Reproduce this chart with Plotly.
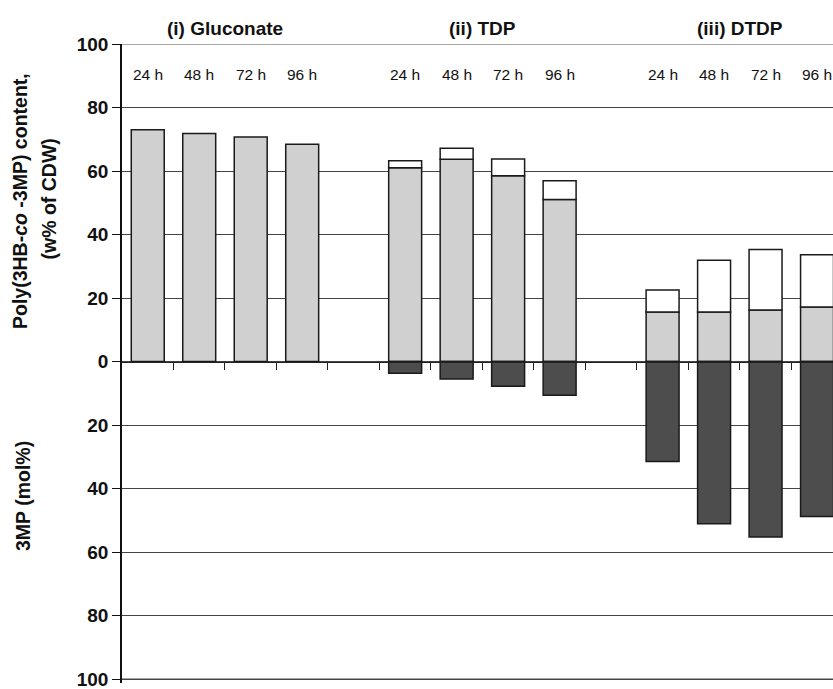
import plotly.graph_objects as go

# ---- data ----
groups = ["(i) Gluconate", "(ii) TDP", "(iii) DTDP"]
times = ["24 h", "48 h", "72 h", "96 h"]
# 3HB part of content (w% of CDW), light grey
hb_part = [[73.0, 71.8, 70.7, 68.4],
           [61.0, 63.7, 58.5, 51.0],
           [15.6, 15.6, 16.2, 17.2]]
# total polymer content (w% of CDW), top of white part
total_content = [[73.0, 71.8, 70.7, 68.4],
                 [63.2, 67.2, 63.8, 56.9],
                 [22.5, 31.9, 35.3, 33.6]]
# 3MP fraction (mol%), dark bars drawn downward
mp_molpct = [[None, None, None, None],
             [3.7, 5.5, 7.8, 10.6],
             [31.5, 51.1, 55.3, 48.8]]
y_ticks = [-100, -80, -60, -40, -20, 0, 20, 40, 60, 80, 100]

# ---- build positions: 4 bars per group, one empty slot between groups ----
xs, grey, white, dark, labels = [], [], [], [], []
group_centers = []
pos = 0
for g in range(len(groups)):
    start = pos
    for t in range(len(times)):
        xs.append(pos)
        grey.append(hb_part[g][t])
        diff = total_content[g][t] - hb_part[g][t]
        white.append(diff if diff > 0.05 else None)
        v = mp_molpct[g][t]
        dark.append(-v if v is not None else None)
        labels.append(times[t])
        pos += 1
    group_centers.append((start + pos - 1) / 2)
    pos += 1

FONT = "Liberation Sans, Arial, Helvetica, sans-serif"
outline = dict(color="#1a1a1a", width=1.5)
bw = 0.64

TOP, BOT = 44, 6
PLOT_H = 689 - TOP - BOT
PX_PER_UNIT = 3.175
y_lo = 100 - PLOT_H / PX_PER_UNIT


def py(pix):
    """paper y for a pixel row"""
    return (689 - BOT - pix) / PLOT_H


W = 833 - 122

fig = go.Figure()
fig.add_bar(x=xs, y=grey, width=bw, marker=dict(color="#d0d0d0", line=outline))
fig.add_bar(x=xs, y=white, width=bw, marker=dict(color="#ffffff", line=outline))
fig.add_bar(x=xs, y=dark, width=bw, marker=dict(color="#4d4d4d", line=outline))

# time labels inside top of plot
for x, lab in zip(xs, labels):
    fig.add_annotation(x=x, y=90.5, text=lab, showarrow=False,
                       font=dict(family=FONT, size=15.5, color="#111"),
                       xanchor="center", yanchor="middle")
# group titles above the plot
for c, g in zip(group_centers, groups):
    fig.add_annotation(x=c, y=py(28), yref="paper", text="<b>%s</b>" % g,
                       showarrow=False,
                       font=dict(family=FONT, size=19, color="#111", weight="bold"),
                       xanchor="center", yanchor="middle")

tfont = dict(family=FONT, size=19.5, color="#111", weight="bold")
fig.add_annotation(xref="paper", yref="paper", x=(20 - 122) / W, y=py(201),
                   text="<b>Poly(3HB-<i>co</i> -3MP) content,</b>", textangle=-90,
                   showarrow=False, font=tfont, xanchor="center", yanchor="middle")
fig.add_annotation(xref="paper", yref="paper", x=(49 - 122) / W, y=py(199.5),
                   text="<b>(w% of CDW)</b>", textangle=-90,
                   showarrow=False, font=tfont, xanchor="center", yanchor="middle")
fig.add_annotation(xref="paper", yref="paper", x=(23 - 122) / W, y=py(496),
                   text="<b>3MP (mol%)</b>", textangle=-90,
                   showarrow=False, font=tfont, xanchor="center", yanchor="middle")

# lighter frame lines at the top and bottom of the value range
for yv in (y_ticks[0], y_ticks[-1]):
    fig.add_shape(type="line", xref="paper", x0=0, x1=1, yref="y", y0=yv, y1=yv,
                  line=dict(color="#8a8a8a", width=1.5), layer="below")

boundaries = [p + 0.5 for p in range(pos - 2)]

fig.update_layout(
    width=833, height=689,
    margin=dict(l=122, r=0, t=TOP, b=BOT, autoexpand=False),
    barmode="relative",
    showlegend=False,
    plot_bgcolor="white", paper_bgcolor="white",
    xaxis=dict(range=[-0.5, 13.31], anchor="free", position=(0 - y_lo) / (100 - y_lo),
               showgrid=False, zeroline=False, showline=True,
               linecolor="#222", linewidth=1,
               ticks="outside", ticklen=7, tickcolor="#222", tickwidth=1,
               tickvals=boundaries, showticklabels=False, fixedrange=True),
    yaxis=dict(range=[y_lo, 100], tickvals=y_ticks,
               ticktext=[str(abs(v)) for v in y_ticks],
               showgrid=True, gridcolor="#444", gridwidth=1,
               zeroline=False, showline=True, linecolor="#111", linewidth=1.5,
               ticks="outside", ticklen=8, tickcolor="#111",
               ticklabeloverflow="allow", automargin=False,
               tickfont=dict(family=FONT, size=19, color="#111", weight="bold"),
               fixedrange=True),
)

fig.write_html("out.html")
